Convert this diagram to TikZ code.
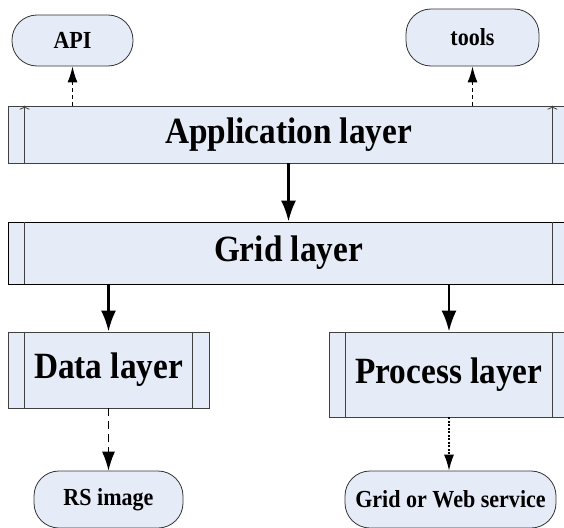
\documentclass[tikz,border=0pt]{standalone}
\usepackage{fontspec}
\setmainfont{Liberation Serif}[FakeStretch=0.9]
\usetikzlibrary{arrows.meta}

\definecolor{layerfill}{RGB}{230,236,247}

\begin{document}
\begin{tikzpicture}[
        x=1pt, y=-1pt,
        layer/.style={draw=black!75, fill=layerfill, line width=0.8pt, inner sep=0pt,
            font=\fontsize{37}{40}\selectfont\bfseries},
        term/.style={draw=black!80, fill=layerfill, line width=0.8pt, rounded corners=25pt,
            inner sep=0pt, minimum height=57pt, font=\fontsize{24.5}{26}\selectfont\bfseries},
        side/.style={draw=black!75, line width=0.8pt},
        flow/.style={-{Latex[length=21pt,width=15pt]}, line width=2.6pt},
        link/.style={-{Latex[length=16pt,width=10pt]}, line width=1.3pt, dash pattern=on 4pt off 3pt}
    ]
    \useasboundingbox (0,0) rectangle (564,527);
    \clip (0,0) rectangle (564,527);

    \node[term, minimum width=121pt, minimum height=51pt] (api) at (72.5,40.5) {API};
    \node[term, minimum width=133pt] (tools) at (472.5,37.5) {tools};

    \node[layer, minimum width=561pt, minimum height=57pt] (app) at (288.5,134.5) {Application layer};
    \node[layer, draw=black, minimum width=561pt, minimum height=62pt] (grid) at (288.5,253) {Grid layer};
    \node[layer, minimum width=201pt, minimum height=76pt] (data) at (108.5,370) {Data layer};
    \node[layer, minimum width=240pt, minimum height=85pt] (proc) at (449,374.5) {Process layer};

    \node[term, minimum width=149pt] (rs) at (108.5,499.5) {RS image};
    \node[term, minimum width=211pt] (gws) at (450.5,499.5) {Grid or Web service};

    \draw[side, -{To[length=4pt,width=10pt]}] ([xshift=17pt]app.south west) -- ([xshift=17pt]app.north west);
    \draw[side, -{To[length=4pt,width=10pt]}] ([xshift=-17pt]app.south east) -- ([xshift=-17pt]app.north east);
    \foreach \n in {grid,data,proc} {
        \draw[side] ([xshift=17pt]\n.south west) -- ([xshift=17pt]\n.north west);
        \draw[side] ([xshift=-17pt]\n.south east) -- ([xshift=-17pt]\n.north east);
    }

    \draw[flow] (app.south) -- (grid.north);
    \draw[flow] (grid.south -| data.north) -- (data.north);
    \draw[flow] (grid.south -| proc.north) -- (proc.north);

    \draw[link] (app.north -| api.south) -- (api.south);
    \draw[link] (app.north -| tools.south) -- (tools.south);
    \draw[link, dash pattern=on 8pt off 5pt, -{Latex[length=19pt,width=13pt]}] (data.south) -- (rs.north);
    \draw[link, dash pattern=on 2pt off 1.5pt] (proc.south) -- (proc.south |- gws.north);
\end{tikzpicture}
\end{document}
